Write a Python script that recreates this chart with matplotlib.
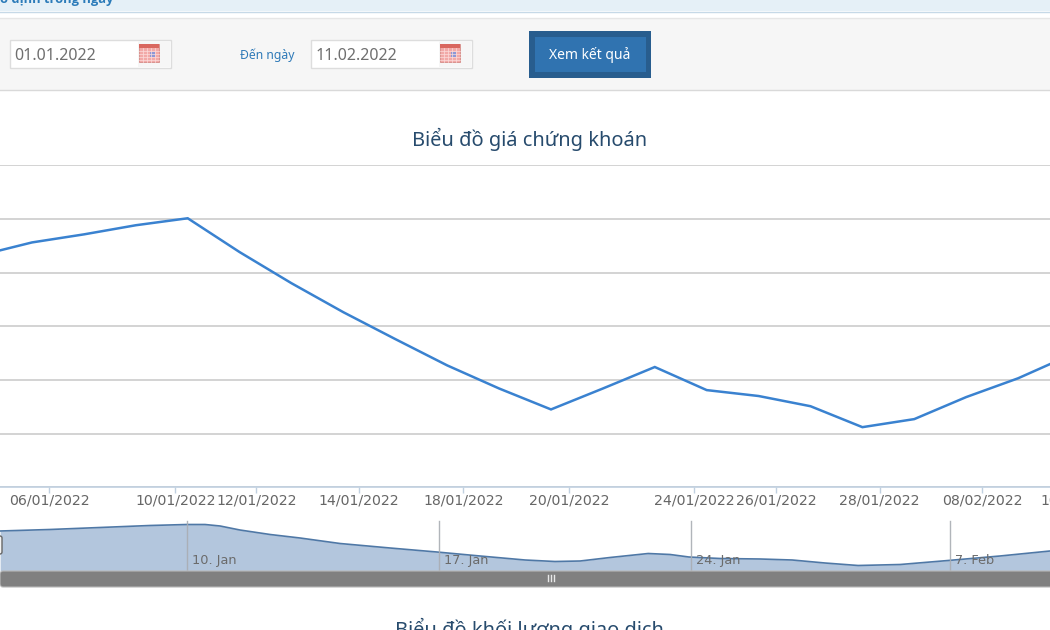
import matplotlib
matplotlib.use("Agg")
import matplotlib.pyplot as plt
from matplotlib.patches import Rectangle, FancyBboxPatch

W, H = 1050, 630

# Closing price per trading session (one unit per gridline band)
sessions = list(range(-1, 21))
prices = [4.32, 4.56, 4.71, 4.88, 5.01, 4.38, 3.80, 3.26, 2.76, 2.27, 1.84,
          1.45, 1.84, 2.24, 1.81, 1.70, 1.51, 1.12, 1.27, 1.68, 2.03, 2.46]

# Category ticks, placed along the session scale
tick_positions = [0.33, 2.76, 4.32, 6.30, 8.31, 10.35, 12.76, 14.34, 16.33, 18.31]
tick_labels = ["06/01/2022", "10/01/2022", "12/01/2022", "14/01/2022", "18/01/2022",
               "20/01/2022", "24/01/2022", "26/01/2022", "28/01/2022", "08/02/2022"]
last_tick_position = 20.2
last_tick_label = "10/02/2022"
gridline_values = [0, 1, 2, 3, 4, 5, 6]

# Overview strip: trading days on a compressed scale, and the same price series
overview_days = [4.81, 6.19, 7.58, 8.97, 10.0, 10.5, 10.92, 11.47, 12.31, 13.14, 14.25,
                 15.64, 16.94, 18.14, 19.39, 20.22, 20.92, 21.75, 22.81, 23.42, 23.94,
                 24.81, 25.92, 26.81, 27.72, 28.64, 29.81, 31.14, 32.58, 33.97]
overview_values = [0.80, 0.83, 0.87, 0.91, 0.93, 0.93, 0.90, 0.82, 0.73, 0.66, 0.55,
                   0.46, 0.38, 0.30, 0.22, 0.19, 0.20, 0.27, 0.35, 0.33, 0.28,
                   0.25, 0.24, 0.22, 0.16, 0.11, 0.13, 0.21, 0.30, 0.40]
overview_break_days = [10, 17, 24, 31.19]
overview_break_labels = ["10. Jan", "17. Jan", "24. Jan", "7. Feb"]


def box(left, top, right, bottom):
    return [left / W, 1 - bottom / H, (right - left) / W, (bottom - top) / H]


fig = plt.figure(figsize=(W / 100, H / 100), dpi=100, facecolor="white")

# Page furniture, in a layer measured in screen units
ui = fig.add_axes([0, 0, 1, 1], zorder=0)
ui.set_xlim(0, W)
ui.set_ylim(H, 0)
ui.axis("off")

ui.add_patch(Rectangle((0, 0), W, 11, fc="#e5f0f7", ec="none"))
ui.plot([0, W], [11.5, 11.5], color="#c6d9e7", lw=1)
ui.text(0, 2.5, "ố định trong ngày", color="#2b7bb9", fontsize=9.3, fontweight="bold",
        family="Open Sans", va="baseline", clip_on=True)
ui.add_patch(Rectangle((0, 18), W, 72, fc="#f6f6f6", ec="none"))
ui.plot([0, W], [17.5, 17.5], color="#e6e6e6", lw=1)
ui.plot([0, W], [90.2, 90.2], color="#d9d9d9", lw=1)


def date_field(left, text):
    ui.add_patch(Rectangle((left, 40), 160.5, 27.5, fc="white", ec="#dddddd", lw=1))
    ui.add_patch(Rectangle((left + 128, 41), 32, 26, fc="#f6f6f6", ec="none"))
    ui.text(left + 4.5, 55.5, text, color="#6f6f6f", fontsize=11.5, family="Noto Sans",
            va="center", ha="left")
    ix = left + 129
    ui.add_patch(Rectangle((ix, 44), 20, 18, fc="#f2a9a7", ec="#d58a86", lw=0.6))
    ui.add_patch(Rectangle((ix, 44), 20, 3.5, fc="#d9675f", ec="none"))
    for gx in range(ix + 4, ix + 20, 4):
        ui.plot([gx, gx], [48, 62], color="#fbdcdb", lw=0.5)
    for gy in range(51, 62, 3):
        ui.plot([ix, ix + 20], [gy, gy], color="#fbdcdb", lw=0.5)
    ui.add_patch(Rectangle((ix + 11, 52), 5, 5, fc="#8c98d6", ec="none"))


date_field(10, "01.01.2022")
date_field(311, "11.02.2022")
ui.text(267.5, 55, "Đến ngày", color="#2f7ab8", fontsize=8.8, family="Noto Sans",
        ha="center", va="center")

ui.add_patch(Rectangle((529, 31), 122, 47, fc="#285d8e", ec="none"))
ui.add_patch(Rectangle((535, 37), 111, 35, fc="#3073b0", ec="none"))
ui.text(590, 55, "Xem kết quả", color="white", fontsize=10, family="Noto Sans",
        ha="center", va="center")

title_style = dict(color="#274b6d", fontsize=14.4, family="Noto Sans", ha="center", va="center")
ui.text(529.5, 139.5, "Biểu đồ giá chứng khoán", **title_style)
ui.text(529.5, 629, "Biểu đồ khối lượng giao dịch", clip_on=True, **title_style)

# Main price chart
ax = fig.add_axes(box(0, 165.1, W, 487.3), zorder=1)
ax.patch.set_alpha(0)
ax.set_xlim(-0.617, 19.615)
ax.set_ylim(0, 6)
for side in ("top", "left", "right"):
    ax.spines[side].set_visible(False)
ax.spines["bottom"].set_color("#c0d0e0")
ax.spines["bottom"].set_linewidth(1.2)
ax.set_yticks(gridline_values)
ax.set_yticklabels([])
ax.tick_params(axis="y", length=0)
ax.grid(axis="y", color="#c8c8c8", lw=1.1)
ax.set_axisbelow(True)
ax.set_xticks(tick_positions)
ax.set_xticklabels(tick_labels)
ax.tick_params(axis="x", length=4.5, width=1, color="#c0d0e0", labelcolor="#666666",
               labelsize=10.2, pad=0.2)
ax.plot(sessions, prices, color="#3a82d0", lw=1.8, solid_joinstyle="miter", clip_on=True)
ax.annotate(last_tick_label, (last_tick_position, 0), xytext=(0, -4.7), textcoords="offset points",
            xycoords="data", ha="center", va="top", color="#666666", fontsize=10.2,
            annotation_clip=False)

# Overview strip
nav = fig.add_axes(box(0, 521, W, 571), zorder=1)
nav.patch.set_alpha(0)
nav.set_xlim(4.806, 33.97)
nav.set_ylim(0, 1)
nav.axis("off")
nav.fill_between(overview_days, overview_values, 0, color="#b3c6dd", lw=0)
nav.plot(overview_days, overview_values, color="#4f78a6", lw=1.2)
for day, label in zip(overview_break_days, overview_break_labels):
    nav.plot([day, day], [0.03, 1.0], color="#a9adb3", lw=1, alpha=0.9, clip_on=False)
    nav.annotate(label, (day, 0), xytext=(3.5, 5.0), textcoords="offset points",
                 color="#6b6b6b", fontsize=9.3, ha="left", va="baseline")

# Scrollbar and drag handle sit over the strip
top = fig.add_axes([0, 0, 1, 1], zorder=2)
top.patch.set_alpha(0)
top.set_xlim(0, W)
top.set_ylim(H, 0)
top.axis("off")
top.add_patch(FancyBboxPatch((0, 571), W + 6, 16, boxstyle="round,pad=0,rounding_size=3",
                             fc="#808080", ec="#b8b8b8", lw=0.8))
for gx in (547.5, 550.5, 553.5):
    top.plot([gx, gx], [575, 581], color="#e8e8e8", lw=1)
top.add_patch(FancyBboxPatch((-5, 536), 7, 18, boxstyle="round,pad=0,rounding_size=2",
                             fc="#f4f4f4", ec="#666666", lw=1))

fig.savefig("out.png", dpi=100)
